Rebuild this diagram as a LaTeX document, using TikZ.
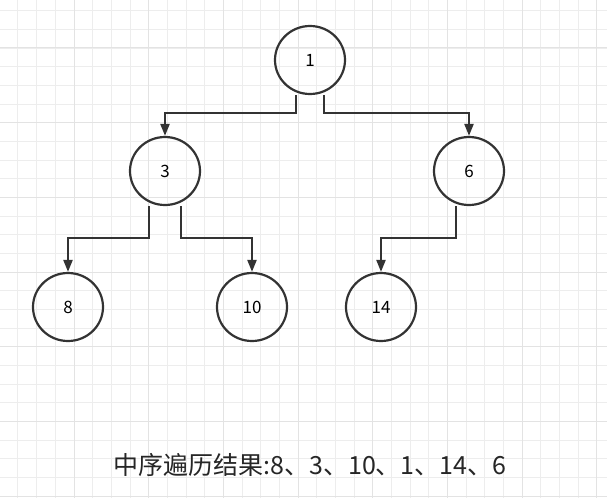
\documentclass[tikz,border=0pt]{standalone}
\usepackage{fontspec}
\setmainfont{Noto Sans CJK SC}
\usetikzlibrary{arrows.meta,shapes.geometric}

\tikzset{
  tnode/.style={ellipse, draw=black!80, line width=2.2pt, minimum width=70pt, minimum height=68pt, inner sep=0pt, font=\fontsize{17}{19}\selectfont},
  tedge/.style={draw=black!80, line width=2.2pt, -{Triangle[length=12pt,width=9pt]}},
}

\begin{document}
\begin{tikzpicture}[x=1pt,y=-1pt]
    \useasboundingbox (0,0) rectangle (607,498);

    % grid
    \foreach \i in {0,...,33} {
        \draw[black!7, line width=1pt] ({-0.68+18.67*\i},0) -- ({-0.68+18.67*\i},498);
    }
    \foreach \i in {0,...,27} {
        \draw[black!7, line width=1pt] (0,{-8+18.67*\i}) -- (607,{-8+18.67*\i});
    }
    \foreach \i in {0,...,8} {
        \draw[black!11, line width=1pt] ({-0.68+74.68*\i},0) -- ({-0.68+74.68*\i},498);
        \draw[black!11, line width=1pt] (0,{-26.7+74.68*\i}) -- (607,{-26.7+74.68*\i});
    }

    \node[tnode] (n1) at (310,60) {1};
    \node[tnode] (n3) at (165,171) {3};
    \node[tnode] (n6) at (469,171) {6};
    \node[tnode] (n8) at (68,307) {8};
    \node[tnode] (n10) at (252,307) {10};
    \node[tnode] (n14) at (381,307) {14};

    \draw[tedge] ([xshift=-14pt]n1.south) -- ++(0,18) -| (n3.north);
    \draw[tedge] ([xshift=14pt]n1.south) -- ++(0,18) -| (n6.north);
    \draw[tedge] ([xshift=-16pt]n3.south) -- ++(0,32) -| (n8.north);
    \draw[tedge] ([xshift=16pt]n3.south) -- ++(0,32) -| (n10.north);
    \draw[tedge] ([xshift=-13pt]n6.south) -- ++(0,32) -| (n14.north);

    \node[font=\fontsize{25}{28}\selectfont, text=black!85] (cap) at (310,465) {中序遍历结果:8、3、10、1、14、6};

\end{tikzpicture}
\end{document}
